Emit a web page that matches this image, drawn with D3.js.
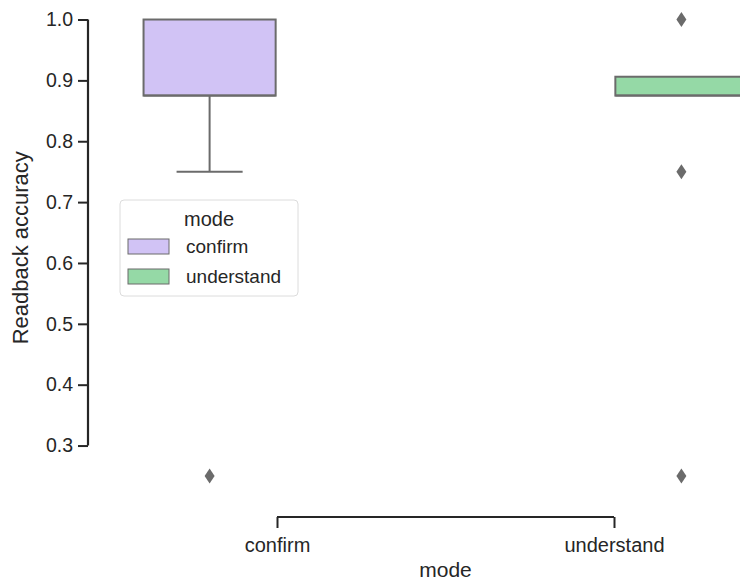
<!DOCTYPE html>
<html><head><meta charset="utf-8">
<script src="https://cdn.jsdelivr.net/npm/d3@7"></script>
<style>body{margin:0;background:#fff}svg{display:block;font-family:"Liberation Sans",Arial,sans-serif}</style>
</head><body><svg id="c" width="740" height="580"></svg>
<script>
const categories = ["confirm", "understand"];
const hues = ["confirm", "understand"];
const hueColors = ["#d1c3f5", "#95d9a6"];
// box statistics per hue (each hue only present in its own category)
const boxCategory = ["confirm", "understand"];
const q1 = [0.875, 0.875];
const median = [0.875, 0.875];
const q3 = [1.0, 0.906];
const whiskerLow = [0.75, 0.875];
const whiskerHigh = [1.0, 0.906];
const outliers = [[0.25], [1.0, 0.75, 0.25]];
const yTicks = [0.3, 0.4, 0.5, 0.6, 0.7, 0.8, 0.9, 1.0];

const svg = d3.select("#c");
const ink = "#262626", boxLine = "#6b6b6b";

const y = d3.scaleLinear().domain([0.2125, 1.0375]).range([498.8, -3.3]);
const x = d3.scaleBand().domain(categories).range([108.5, 782.5]).padding(0);
const xh = d3.scaleBand().domain(hues).range([0.1 * x.bandwidth(), 0.9 * x.bandwidth()]).padding(0);
const bw = xh.bandwidth() * 0.98;

// y axis (trimmed, offset)
const yAxisX = 88;
const ya = svg.append("g").attr("transform", `translate(${yAxisX},0)`)
  .call(d3.axisLeft(y).tickValues(yTicks).tickSize(10).tickPadding(5).tickFormat(d3.format(".1f")));
ya.select(".domain").remove();
ya.selectAll(".tick line").attr("stroke", ink).attr("stroke-width", 2);
ya.selectAll(".tick text").attr("fill", ink).style("font-size", "19.5px");
ya.append("line").attr("x1", 0).attr("x2", 0).attr("y1", y(0.3)).attr("y2", y(1.0))
  .attr("stroke", ink).attr("stroke-width", 2.2);

// x axis (trimmed, offset)
const xAxisY = 517;
const centers = categories.map(c => x(c) + x.bandwidth() / 2);
const xa = svg.append("g").attr("transform", `translate(0,${xAxisY})`)
  .call(d3.axisBottom(d3.scalePoint().domain(categories).range([centers[0], centers[1]])).tickSize(11).tickPadding(10));
xa.select(".domain").remove();
xa.selectAll(".tick line").attr("stroke", ink).attr("stroke-width", 2);
xa.selectAll(".tick text").attr("fill", ink).style("font-size", "20px");
xa.append("line").attr("x1", centers[0]).attr("x2", centers[1]).attr("y1", 0).attr("y2", 0)
  .attr("stroke", ink).attr("stroke-width", 2.2);

// labels
svg.append("text").attr("x", (x.range()[0] + x.range()[1]) / 2).attr("y", 577)
  .attr("text-anchor", "middle").attr("fill", ink).style("font-size", "21px").text("mode");
svg.append("text").attr("transform", `translate(28,${(y.range()[0] + y.range()[1]) / 2}) rotate(-90)`)
  .attr("text-anchor", "middle").attr("fill", ink).style("font-size", "22px").text("Readback accuracy");

// boxes
hues.forEach((h, i) => {
  const cx = x(boxCategory[i]) + xh(h) + xh.bandwidth() / 2;
  const g = svg.append("g");
  g.append("line").attr("x1", cx).attr("x2", cx).attr("y1", y(q1[i])).attr("y2", y(whiskerLow[i]))
    .attr("stroke", boxLine).attr("stroke-width", 2);
  g.append("line").attr("x1", cx).attr("x2", cx).attr("y1", y(q3[i])).attr("y2", y(whiskerHigh[i]))
    .attr("stroke", boxLine).attr("stroke-width", 2);
  if (whiskerLow[i] < q1[i]) g.append("line").attr("x1", cx - bw / 4).attr("x2", cx + bw / 4)
    .attr("y1", y(whiskerLow[i])).attr("y2", y(whiskerLow[i])).attr("stroke", boxLine).attr("stroke-width", 2);
  if (whiskerHigh[i] > q3[i]) g.append("line").attr("x1", cx - bw / 4).attr("x2", cx + bw / 4)
    .attr("y1", y(whiskerHigh[i])).attr("y2", y(whiskerHigh[i])).attr("stroke", boxLine).attr("stroke-width", 2);
  g.append("rect").attr("x", cx - bw / 2).attr("width", bw)
    .attr("y", y(q3[i])).attr("height", y(q1[i]) - y(q3[i]))
    .attr("fill", hueColors[i]).attr("stroke", boxLine).attr("stroke-width", 2);
  g.append("line").attr("x1", cx - bw / 2).attr("x2", cx + bw / 2)
    .attr("y1", y(median[i])).attr("y2", y(median[i])).attr("stroke", boxLine).attr("stroke-width", 2);
  g.selectAll("path.out").data(outliers[i]).join("path")
    .attr("d", d => `M${cx},${y(d) - 7.5}L${cx + 5},${y(d)}L${cx},${y(d) + 7.5}L${cx - 5},${y(d)}Z`)
    .attr("fill", boxLine);
});

// legend
const lg = svg.append("g").attr("transform", "translate(120,200)");
lg.append("rect").attr("width", 178).attr("height", 96).attr("rx", 4)
  .attr("fill", "#fff").attr("fill-opacity", 0.8).attr("stroke", "#dcdcdc").attr("stroke-width", 1);
lg.append("text").attr("x", 89).attr("y", 26).attr("text-anchor", "middle").attr("fill", ink)
  .style("font-size", "20px").text("mode");
hues.forEach((h, i) => {
  lg.append("rect").attr("x", 8).attr("y", 39 + i * 30).attr("width", 41).attr("height", 15)
    .attr("fill", hueColors[i]).attr("stroke", boxLine).attr("stroke-width", 1);
  lg.append("text").attr("x", 66).attr("y", 53 + i * 30).attr("fill", ink)
    .style("font-size", "19px").text(h);
});
</script></body></html>
